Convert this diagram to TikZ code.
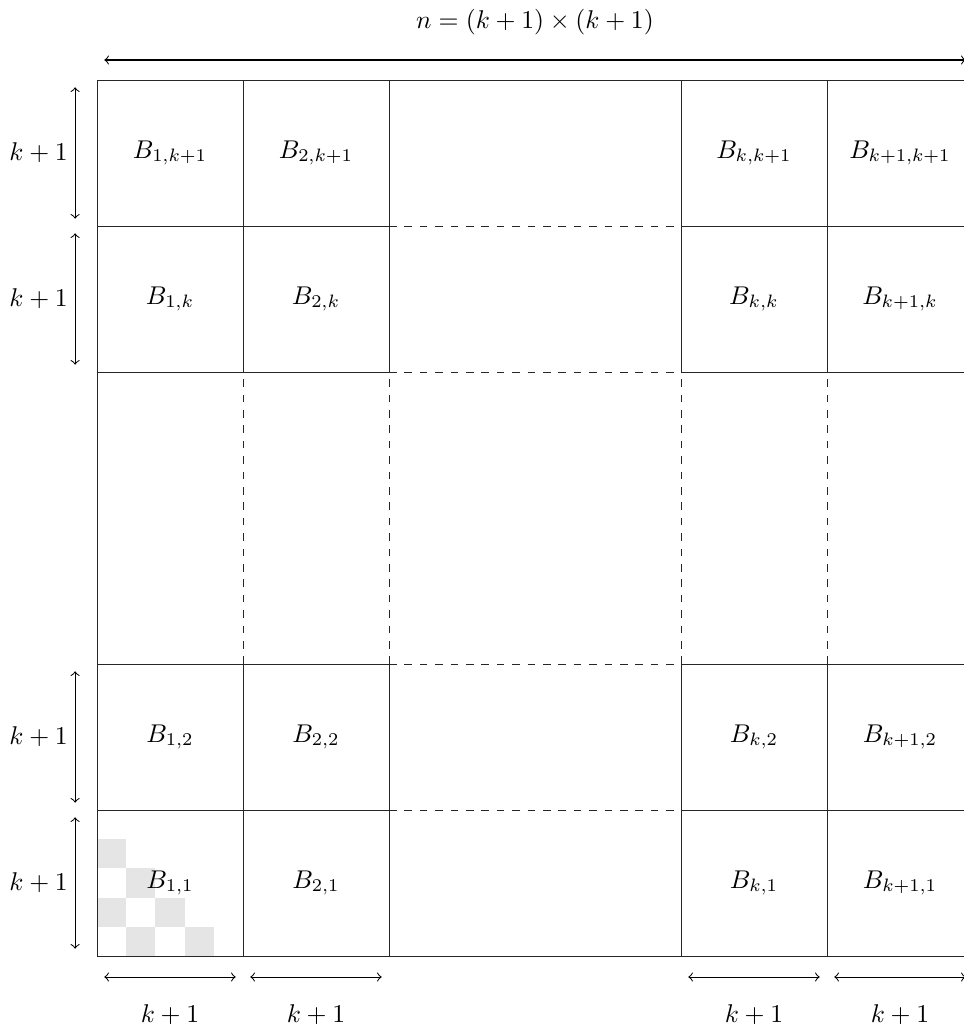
\documentclass[tikz,border=0pt]{standalone}
\begin{document}
\begin{tikzpicture}[x=2cm,y=2cm,
  gridline/.style={line width=0.3pt,black!85},
  dashline/.style={line width=0.3pt,black!85,dashed},
  dimarrow/.style={<->,line width=0.4pt},
  lbl/.style={inner sep=0pt}]
\useasboundingbox (-0.6644,-0.4795) rectangle (5.9384,6.548);
% checkerboard
\foreach \i/\j in {0/1,0/3,1/0,1/2,2/1,3/0}{
  \fill[gray!20] (\j*0.2,\i*0.2) rectangle ++(0.2,0.2);
}
% solid lines
\draw[gridline] (0,0) -- (6,0);
\draw[gridline] (0,6) -- (6,6);
\draw[gridline] (0,0) -- (0,6);
\foreach \y in {1,2,4,5}{
  \draw[gridline] (0,\y) -- (2,\y);
  \draw[gridline] (4,\y) -- (6,\y);
  \draw[dashline] (2,\y) -- (4,\y);
}
\foreach \x in {1,2,4,5}{
  \draw[gridline] (\x,0) -- (\x,2);
  \draw[gridline] (\x,4) -- (\x,6);
  \draw[dashline] (\x,2) -- (\x,4);
}
% labels
\node[lbl] (b11) at (0.5,0.5) {$B_{1,1}$};
\node[lbl] (b21) at (1.5,0.5) {$B_{2,1}$};
\node[lbl] (bk1) at (4.5,0.5) {$B_{k,1}$};
\node[lbl] (bkk1) at (5.5,0.5) {$B_{k+1,1}$};
\node[lbl] (b12) at (0.5,1.5) {$B_{1,2}$};
\node[lbl] (b22) at (1.5,1.5) {$B_{2,2}$};
\node[lbl] (bk2) at (4.5,1.5) {$B_{k,2}$};
\node[lbl] (bkk2) at (5.5,1.5) {$B_{k+1,2}$};
\node[lbl] (b1k) at (0.5,4.5) {$B_{1,k}$};
\node[lbl] (b2k) at (1.5,4.5) {$B_{2,k}$};
\node[lbl] (bkk) at (4.5,4.5) {$B_{k,k}$};
\node[lbl] (bk1k) at (5.5,4.5) {$B_{k+1,k}$};
\node[lbl] (b1kk) at (0.5,5.5) {$B_{1,k+1}$};
\node[lbl] (b2kk) at (1.5,5.5) {$B_{2,k+1}$};
\node[lbl] (bkkk) at (4.5,5.5) {$B_{k,k+1}$};
\node[lbl] (bk1k1) at (5.5,5.5) {$B_{k+1,k+1}$};
% top dimension
\coordinate (tl) at (0.05,6.137);
\coordinate (tr) at (5.95,6.137);
\draw[dimarrow] (tl) -- (tr);
\node[lbl] (ntop) at (3,6.397) {$n=(k+1)\times(k+1)$};
% left dimensions
\foreach \y/\nm in {0/la,1/lb,4/lc,5/ld}{
  \coordinate (\nm s) at (-0.15,\y+0.05);
  \coordinate (\nm e) at (-0.15,\y+0.95);
  \draw[dimarrow] (\nm s) -- (\nm e);
  \node[lbl] (\nm t) at (-0.40,\y+0.5) {$k+1$};
}
% bottom dimensions
\foreach \x/\nm in {0/ba,1/bb,4/bc,5/bd}{
  \coordinate (\nm s) at (\x+0.05,-0.144);
  \coordinate (\nm e) at (\x+0.95,-0.144);
  \draw[dimarrow] (\nm s) -- (\nm e);
  \node[lbl] (\nm t) at (\x+0.5,-0.40) {$k+1$};
}
\end{tikzpicture}
\end{document}
